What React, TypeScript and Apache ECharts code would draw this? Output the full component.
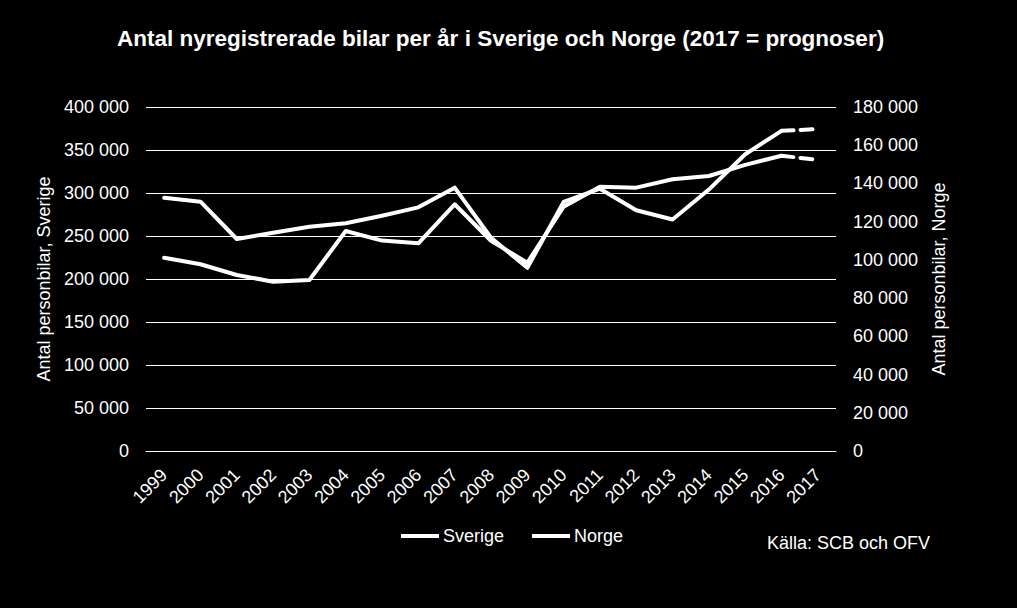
import React, { useEffect, useRef } from "react";
import * as echarts from "echarts";

const years = ["1999","2000","2001","2002","2003","2004","2005","2006","2007","2008","2009","2010","2011","2012","2013","2014","2015","2016","2017"];
const sverige = [294500, 289900, 246500, 253800, 260800, 264800, 273600, 283300, 306200, 248000, 213000, 289700, 305000, 279900, 269200, 304000, 345100, 372300, null];
const norge = [101150, 97700, 92100, 88600, 89500, 115100, 110100, 108700, 129100, 110000, 98500, 127800, 138300, 137800, 142200, 143900, 149700, 154500, null];
const sverigePrognos = [null, null, null, null, null, null, null, null, null, null, null, null, null, null, null, null, null, 372300, 374400];
const norgePrognos = [null, null, null, null, null, null, null, null, null, null, null, null, null, null, null, null, null, 154500, 152300];

const leftTicks = { min: 0, max: 400000, interval: 50000 };
const rightTicks = { min: 0, max: 180000, interval: 20000 };

const FONT = "'Liberation Sans', Arial, sans-serif";
const FS = 18;
const fmt = (v: number) => (v === 0 ? "0" : `${Math.round(v / 1000)} 000`);

export default function App() {
  const ref = useRef<HTMLDivElement>(null);
  useEffect(() => {
    if (!ref.current) return;
    const chart = echarts.init(ref.current, undefined, { renderer: "svg" });
    const lineStyle = { color: "#ffffff", width: 4, cap: "round", join: "round" };
    chart.setOption({
      animation: false,
      backgroundColor: "#000000",
      textStyle: { fontFamily: FONT, color: "#ffffff" },
      title: {
        text: "Antal nyregistrerade bilar per år i Sverige och Norge (2017 = prognoser)",
        left: 112,
        top: 22,
        textStyle: { color: "#ffffff", fontSize: 22.5, fontWeight: "bold", fontFamily: FONT },
      },
      grid: { left: 146, right: 181, top: 107, bottom: 157, containLabel: false },
      legend: {
        data: ["Sverige", "Norge"],
        left: 396,
        top: 522,
        icon: "rect",
        itemWidth: 38,
        itemHeight: 4,
        itemGap: 28,
        textStyle: { color: "#ffffff", fontSize: FS, fontFamily: FONT, padding: [0, 0, 0, -1] },
      },
      xAxis: {
        type: "category",
        data: years,
        boundaryGap: true,
        axisLine: { show: true, lineStyle: { color: "#ffffff", width: 1 } },
        axisTick: { show: false },
        axisLabel: { color: "#ffffff", fontSize: FS, fontFamily: FONT, rotate: 45, margin: 21, interval: 0 },
      },
      yAxis: [
        {
          type: "value",
          ...leftTicks,
          name: "Antal personbilar, Sverige",
          nameLocation: "middle",
          nameRotate: 90,
          nameGap: 87,
          nameTextStyle: { color: "#ffffff", fontSize: FS, fontFamily: FONT },
          axisLine: { show: false },
          axisTick: { show: false },
          splitLine: { show: true, lineStyle: { color: "#ffffff", width: 1 } },
          axisLabel: { color: "#ffffff", fontSize: FS, fontFamily: FONT, margin: 17, formatter: fmt },
        },
        {
          type: "value",
          ...rightTicks,
          position: "right",
          name: "Antal personbilar, Norge",
          nameLocation: "middle",
          nameRotate: 90,
          nameGap: 94,
          nameTextStyle: { color: "#ffffff", fontSize: FS, fontFamily: FONT },
          axisLine: { show: false },
          axisTick: { show: false },
          splitLine: { show: false },
          axisLabel: { color: "#ffffff", fontSize: FS, fontFamily: FONT, margin: 17, formatter: fmt },
        },
      ],
      series: [
        { name: "Sverige", type: "line", yAxisIndex: 0, data: sverige, symbol: "none", lineStyle, itemStyle: { color: "#ffffff" } },
        { name: "Norge", type: "line", yAxisIndex: 1, data: norge, symbol: "none", lineStyle, itemStyle: { color: "#ffffff" } },
        { name: "Sverige prognos", type: "line", yAxisIndex: 0, data: sverigePrognos, symbol: "none", lineStyle: { ...lineStyle, type: [12, 7] }, itemStyle: { color: "#ffffff" } },
        { name: "Norge prognos", type: "line", yAxisIndex: 1, data: norgePrognos, symbol: "none", lineStyle: { ...lineStyle, type: [12, 7] }, itemStyle: { color: "#ffffff" } },
      ],
      graphic: [
        {
          type: "text",
          left: 767,
          top: 534,
          style: { text: "Källa: SCB och OFV", fill: "#ffffff", fontSize: FS, fontFamily: FONT },
        },
      ],
    });
    return () => chart.dispose();
  }, []);
  return <div ref={ref} style={{ width: 1017, height: 608, position: "absolute", left: 0, top: 0 }} />;
}
